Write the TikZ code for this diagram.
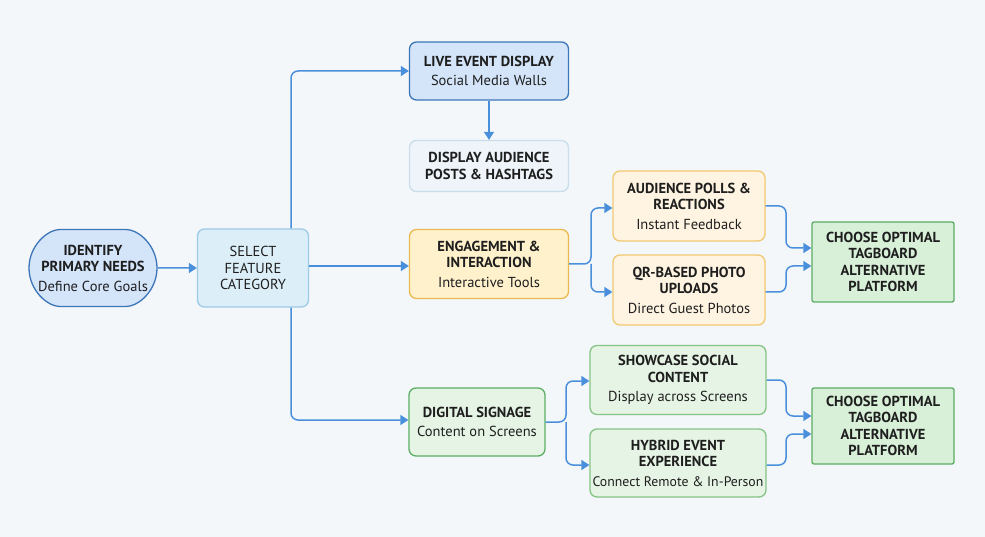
\documentclass[tikz,border=0pt]{standalone}
\usepackage{fontspec}
\setmainfont{PT Sans}
\usetikzlibrary{arrows.meta,shapes.misc}
\definecolor{bg}{HTML}{F3F7FA}
\definecolor{arr}{HTML}{4A8FDB}
\definecolor{bluef}{HTML}{D4E5FA}\definecolor{blued}{HTML}{3D76B8}
\definecolor{self}{HTML}{DCEEF8}\definecolor{seld}{HTML}{9CCBE5}
\definecolor{disf}{HTML}{EEF4FA}\definecolor{disd}{HTML}{C9DDEB}
\definecolor{yelf}{HTML}{FFF1CC}\definecolor{yeld}{HTML}{EBB94E}
\definecolor{orf}{HTML}{FFF4E2}\definecolor{ord}{HTML}{F0C870}
\definecolor{grf}{HTML}{E6F4E5}\definecolor{grd}{HTML}{86C486}
\definecolor{chf}{HTML}{D8EFD8}\definecolor{chd}{HTML}{5DAE64}
\definecolor{txt}{HTML}{1E1E1E}
\tikzset{
 box/.style={draw, line width=1.3pt, rounded corners=7pt, align=center, text=txt, inner sep=1pt, font=\fontsize{14.5}{16.5}\selectfont},
 con/.style={draw=arr, line width=1.5pt, rounded corners=7pt, -{Triangle[length=8pt,width=10pt]}},
}
\newcommand{\ttl}[1]{{\bfseries #1}}
\begin{document}
\begin{tikzpicture}[x=1pt,y=-1pt]
\fill[bg] (0,0) rectangle (985,537);
\useasboundingbox (0,0) rectangle (985,537);
\node[box, rounded rectangle, fill=bluef, draw=blued, minimum width=130pt, minimum height=77pt] (id) at (93,268) {\ttl{IDENTIFY}\\\ttl{PRIMARY NEEDS}\\[3pt]Define Core Goals};
\node[box, fill=self, draw=seld, minimum width=111pt, minimum height=78pt] (sel) at (253,268) {SELECT\\FEATURE\\CATEGORY};
\node[box, fill=bluef, draw=blued, minimum width=159pt, minimum height=58pt] (live) at (489,71) {\ttl{LIVE EVENT DISPLAY}\\[3pt]Social Media Walls};
\node[box, fill=disf, draw=disd, minimum width=159pt, minimum height=51pt] (dis) at (489,166) {\ttl{DISPLAY AUDIENCE}\\\ttl{POSTS \& HASHTAGS}};
\node[box, fill=yelf, draw=yeld, minimum width=159pt, minimum height=69pt] (eng) at (489,264) {\ttl{ENGAGEMENT \&}\\\ttl{INTERACTION}\\[3pt]Interactive Tools};
\node[box, fill=orf, draw=ord, minimum width=152pt, minimum height=70pt] (poll) at (689,206) {\ttl{AUDIENCE POLLS \&}\\\ttl{REACTIONS}\\[3pt]Instant Feedback};
\node[box, fill=orf, draw=ord, minimum width=152pt, minimum height=70pt] (qr) at (689,290) {\ttl{QR-BASED PHOTO}\\\ttl{UPLOADS}\\[3pt]Direct Guest Photos};
\node[box, rounded corners=2pt, fill=chf, draw=chd, minimum width=142pt, minimum height=80pt] (ch1) at (883,262) {\ttl{CHOOSE OPTIMAL}\\\ttl{TAGBOARD}\\\ttl{ALTERNATIVE}\\\ttl{PLATFORM}};
\node[box, fill=grf, draw=chd, minimum width=136pt, minimum height=68pt] (dig) at (477,422) {\ttl{DIGITAL SIGNAGE}\\[3pt]Content on Screens};
\node[box, fill=grf, draw=grd, minimum width=176pt, minimum height=69pt] (show) at (678,380) {\ttl{SHOWCASE SOCIAL}\\\ttl{CONTENT}\\[3pt]Display across Screens};
\node[box, fill=grf, draw=grd, minimum width=176pt, minimum height=68pt, inner xsep=0pt] (hyb) at (678,463) {\ttl{HYBRID EVENT}\\\ttl{EXPERIENCE}\\[3pt]{\fontsize{13.8}{16}\selectfont Connect Remote \& In-Person}};
\node[box, rounded corners=2pt, fill=chf, draw=chd, minimum width=142pt, minimum height=76pt] (ch2) at (883,426) {\ttl{CHOOSE OPTIMAL}\\\ttl{TAGBOARD}\\\ttl{ALTERNATIVE}\\\ttl{PLATFORM}};
\coordinate (s1) at (591,264);
\coordinate (s2) at (566,422);
\draw[con] (id) -- (sel);
\draw[con] (sel.east |- 0,266) -- (eng.west |- 0,266);
\draw[con] (sel.north -| 291,0) -- (291,71) -- (live.west);
\draw[con] (sel.south -| 291,0) -- (291,420) -- (dig.west |- 291,420);
\draw[con] (live) -- (dis);
\draw[con] (eng.east) -- (s1) |- (poll.west |- 0,208);
\draw[con] (s1) |- (qr.west |- 0,292);
\draw[con] (poll.east |- 0,206) -- (786,206) |- (ch1.west |- 0,248);
\draw[con] (qr.east |- 0,292) -- (786,292) |- (ch1.west |- 0,266);
\draw[con] (dig.east) -- (s2) |- (show.west |- 0,381);
\draw[con] (s2) |- (hyb.west |- 0,465);
\draw[con] (show.east |- 0,380) -- (786,380) |- (ch2.west |- 0,416);
\draw[con] (hyb.east |- 0,465) -- (786,465) |- (ch2.west |- 0,434);
\end{tikzpicture}
\end{document}
